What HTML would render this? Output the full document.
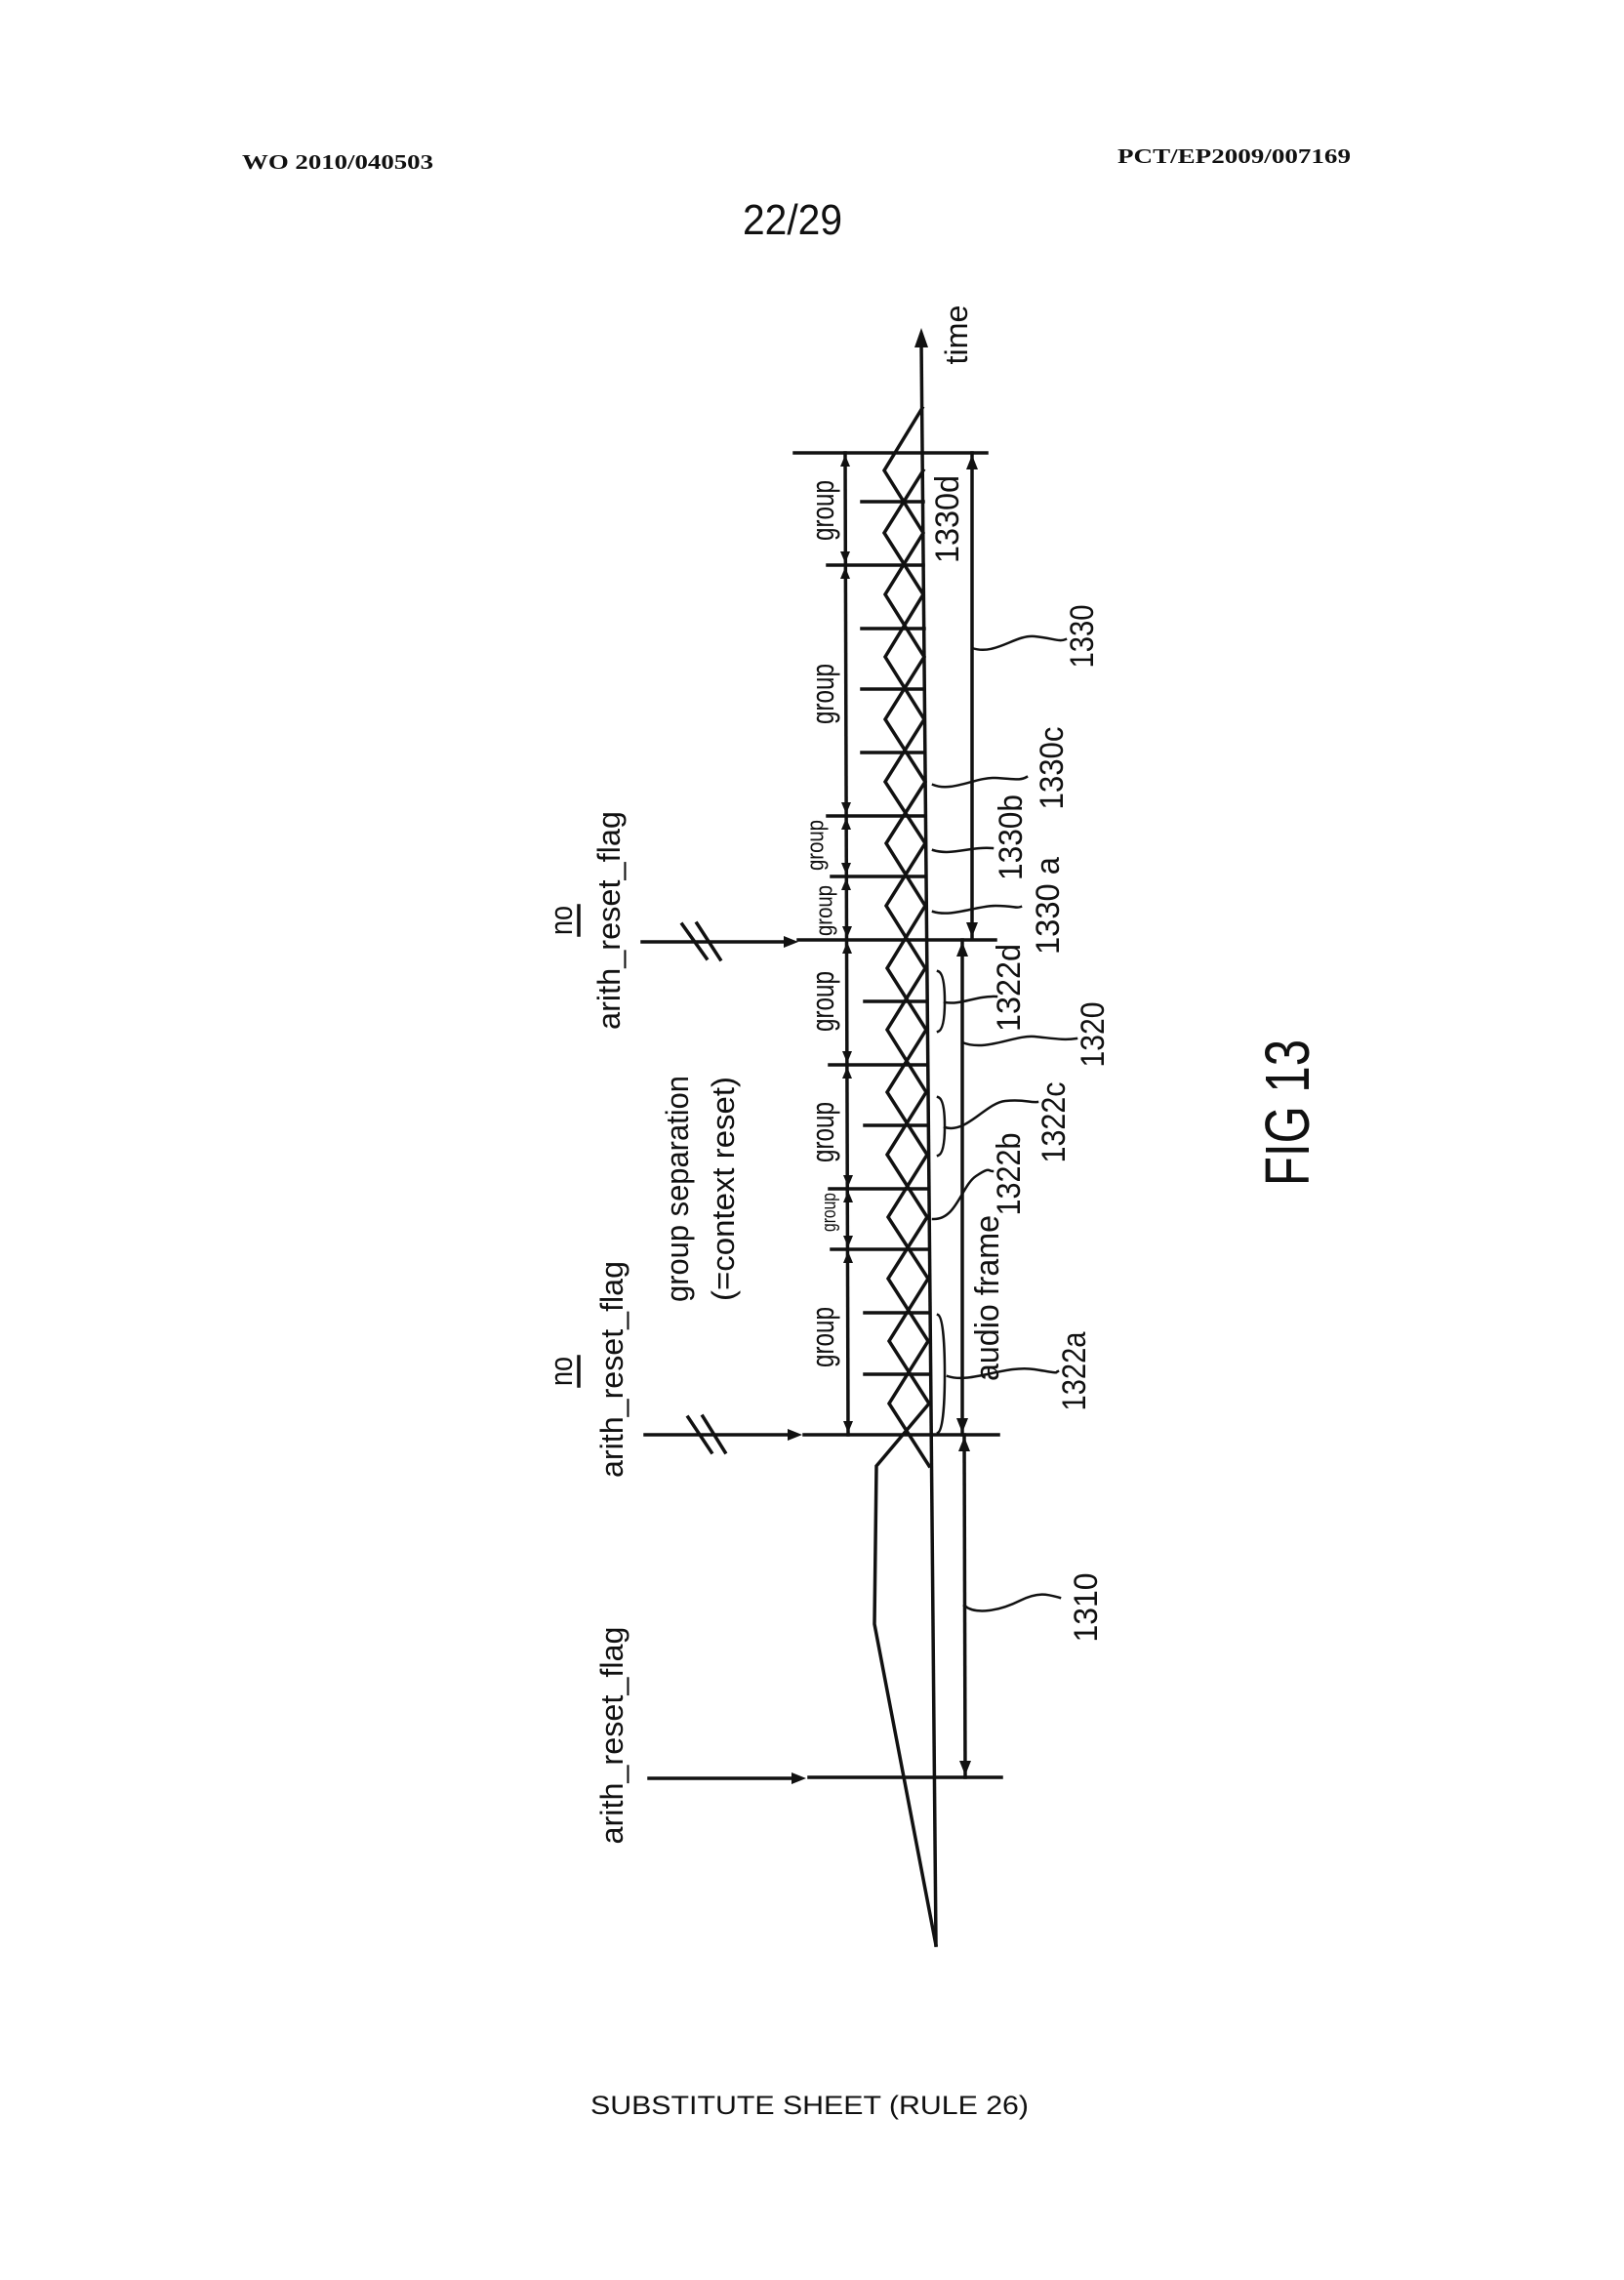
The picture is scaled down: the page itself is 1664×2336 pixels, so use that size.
<!DOCTYPE html>
<html><head><meta charset="utf-8"><style>
html,body{margin:0;padding:0;background:#fff;}
svg{display:block;}
text{font-family:"Liberation Sans",sans-serif;fill:#111;}
</style></head><body>
<svg width="1664" height="2336" viewBox="0 0 1664 2336" xmlns="http://www.w3.org/2000/svg">
<rect width="1664" height="2336" fill="#fff"/>
<!-- header -->
<text x="248" y="173" font-weight="bold" font-size="21" textLength="196" lengthAdjust="spacingAndGlyphs" style="font-family:'Liberation Serif',serif">WO 2010/040503</text>
<text x="1145" y="167" font-weight="bold" font-size="21" textLength="239" lengthAdjust="spacingAndGlyphs" style="font-family:'Liberation Serif',serif">PCT/EP2009/007169</text>
<text x="761" y="240" font-size="44" textLength="102" lengthAdjust="spacingAndGlyphs">22/29</text>
<text x="605" y="2166" font-size="27" textLength="449" lengthAdjust="spacingAndGlyphs">SUBSTITUTE SHEET (RULE 26)</text>

<g stroke="#111" stroke-width="3.5" fill="none" stroke-linecap="square">
<line x1="944" y1="350" x2="959" y2="1993"/>
<polyline points="
945,418 906,482 946,546 907,609 947,673 907,737 948,801 908,864 948,928 909,992 949,1055 909,1119 950,1183 910,1247 951,1310 911,1374 952,1438 898,1502 896,1664 959,1993"/>
<polyline points="
946,482 906,546 946,609 907,673 947,737 907,801 948,864 908,928 948,992 909,1055 949,1119 909,1183 950,1247 910,1310 951,1374 911,1438 952,1502"/>
<line x1="814" y1="464" x2="1011" y2="464"/>
<line x1="818" y1="963" x2="1020" y2="963"/>
<line x1="824" y1="1470" x2="1023" y2="1470"/>
<line x1="829" y1="1821" x2="1026" y2="1821"/>
<line x1="848" y1="579" x2="946" y2="579"/>
<line x1="848" y1="836" x2="948" y2="836"/>
<line x1="852" y1="898" x2="948" y2="898"/>
<line x1="850" y1="1091" x2="949" y2="1091"/>
<line x1="850" y1="1218" x2="950" y2="1218"/>
<line x1="852" y1="1280" x2="951" y2="1280"/>
<line x1="883" y1="514" x2="946" y2="514"/>
<line x1="883" y1="644" x2="947" y2="644"/>
<line x1="883" y1="706" x2="947" y2="706"/>
<line x1="883" y1="771" x2="947" y2="771"/>
<line x1="886" y1="1026" x2="949" y2="1026"/>
<line x1="886" y1="1153" x2="950" y2="1153"/>
<line x1="886" y1="1345" x2="951" y2="1345"/>
<line x1="886" y1="1408" x2="952" y2="1408"/>
<line x1="866" y1="464" x2="869" y2="1470"/>
<line x1="996" y1="464" x2="996" y2="961"/>
<line x1="986" y1="963" x2="986" y2="1470"/>
<line x1="988" y1="1470" x2="989" y2="1821"/>
<line x1="658" y1="965" x2="808" y2="965"/>
<line x1="661" y1="1470" x2="810" y2="1470"/>
<line x1="665" y1="1822" x2="812" y2="1822"/>
<line x1="699" y1="947" x2="724" y2="982"/>
<line x1="714" y1="946" x2="738" y2="983"/>
<line x1="705" y1="1452" x2="729" y2="1488"/>
<line x1="720" y1="1451" x2="743" y2="1488"/>
<g stroke-width="2.5">
<path d="M996,664 C1020,672 1040,650 1060,652 S1085,658 1092,655"/>
<path d="M956,804 C975,812 1000,796 1020,797 S1045,800 1052,796"/>
<path d="M956,871 C975,877 995,867 1017,869"/>
<path d="M956,934 C975,940 1000,928 1020,928 S1040,931 1046,929"/>
<path d="M961,995 C968,997 968,1020 968,1026 C968,1032 968,1055 961,1057"/>
<path d="M968,1027 C985,1030 1000,1020 1021,1021"/>
<path d="M986,1068 C1010,1078 1040,1060 1060,1062 S1090,1066 1103,1064"/>
<path d="M961,1124 C968,1126 968,1148 968,1154 C968,1160 968,1182 961,1184"/>
<path d="M968,1155 C990,1162 1010,1130 1030,1128 S1055,1130 1063,1129"/>
<path d="M956,1249 C980,1250 985,1215 1000,1205 S1012,1200 1017,1200"/>
<path d="M961,1347 C968,1350 968,1400 968,1408 C968,1416 968,1464 961,1468"/>
<path d="M971,1410 C995,1418 1030,1398 1060,1403 S1080,1406 1084,1405"/>
<path d="M988,1645 C1000,1655 1025,1650 1045,1640 S1075,1634 1086,1637"/>
</g>
<line x1="593" y1="928" x2="593" y2="958"/>
<line x1="593" y1="1390" x2="593" y2="1420"/>
</g>
<g fill="#111">
<polygon points="944,336 937,356 951,356"/>
<polygon points="818,965 803,959 803,971"/>
<polygon points="822,1470 807,1464 807,1476"/>
<polygon points="826,1822 811,1816 811,1828"/>
<polygon points="996,466 990,481 1002,481"/>
<polygon points="996,960 990,945 1002,945"/>
<polygon points="986,965 980,980 992,980"/>
<polygon points="986,1468 980,1453 992,1453"/>
<polygon points="988,1472 982,1487 994,1487"/>
<polygon points="989,1819 983,1804 995,1804"/>
<polygon points="866,466 861,478 871,478"/>
<polygon points="866,577 861,565 871,565"/><polygon points="866,581 861,593 871,593"/>
<polygon points="867,834 862,822 872,822"/><polygon points="867,838 862,850 872,850"/>
<polygon points="867,896 862,884 872,884"/><polygon points="867,900 862,912 872,912"/>
<polygon points="868,961 863,949 873,949"/><polygon points="868,965 863,977 873,977"/>
<polygon points="868,1089 863,1077 873,1077"/><polygon points="868,1093 863,1105 873,1105"/>
<polygon points="869,1216 864,1204 874,1204"/><polygon points="869,1220 864,1232 874,1232"/>
<polygon points="869,1278 864,1266 874,1266"/><polygon points="869,1282 864,1294 874,1294"/>
<polygon points="869,1468 864,1456 874,1456"/>
</g>
<g font-size="32">
<text transform="translate(980,343) rotate(-90)" text-anchor="middle" dominant-baseline="central" textLength="61" lengthAdjust="spacingAndGlyphs">time</text>
<text transform="translate(843,523) rotate(-90)" text-anchor="middle" dominant-baseline="central" textLength="62" lengthAdjust="spacingAndGlyphs">group</text>
<text transform="translate(843,711) rotate(-90)" text-anchor="middle" dominant-baseline="central" textLength="62" lengthAdjust="spacingAndGlyphs">group</text>
<text transform="translate(836,866) rotate(-90)" text-anchor="middle" dominant-baseline="central" font-size="24" textLength="52" lengthAdjust="spacingAndGlyphs">group</text>
<text transform="translate(845,933) rotate(-90)" text-anchor="middle" dominant-baseline="central" font-size="24" textLength="52" lengthAdjust="spacingAndGlyphs">group</text>
<text transform="translate(843,1026) rotate(-90)" text-anchor="middle" dominant-baseline="central" textLength="62" lengthAdjust="spacingAndGlyphs">group</text>
<text transform="translate(843,1160) rotate(-90)" text-anchor="middle" dominant-baseline="central" textLength="62" lengthAdjust="spacingAndGlyphs">group</text>
<text transform="translate(850,1242) rotate(-90)" text-anchor="middle" dominant-baseline="central" font-size="20" textLength="40" lengthAdjust="spacingAndGlyphs">group</text>
<text transform="translate(843,1370) rotate(-90)" text-anchor="middle" dominant-baseline="central" textLength="62" lengthAdjust="spacingAndGlyphs">group</text>

<text transform="translate(971,532) rotate(-90)" text-anchor="middle" dominant-baseline="central" font-size="34" textLength="90" lengthAdjust="spacingAndGlyphs">1330d</text>
<text transform="translate(1109,652) rotate(-90)" text-anchor="middle" dominant-baseline="central" font-size="34" textLength="65" lengthAdjust="spacingAndGlyphs">1330</text>
<text transform="translate(1078,787) rotate(-90)" text-anchor="middle" dominant-baseline="central" font-size="34" textLength="85" lengthAdjust="spacingAndGlyphs">1330c</text>
<text transform="translate(1036,858) rotate(-90)" text-anchor="middle" dominant-baseline="central" font-size="34" textLength="88" lengthAdjust="spacingAndGlyphs">1330b</text>
<text transform="translate(1074,928) rotate(-90)" text-anchor="middle" dominant-baseline="central" font-size="34" textLength="100" lengthAdjust="spacingAndGlyphs">1330 a</text>
<text transform="translate(1034,1012) rotate(-90)" text-anchor="middle" dominant-baseline="central" font-size="34" textLength="90" lengthAdjust="spacingAndGlyphs">1322d</text>
<text transform="translate(1120,1060) rotate(-90)" text-anchor="middle" dominant-baseline="central" font-size="34" textLength="67" lengthAdjust="spacingAndGlyphs">1320</text>
<text transform="translate(1080,1150) rotate(-90)" text-anchor="middle" dominant-baseline="central" font-size="34" textLength="83" lengthAdjust="spacingAndGlyphs">1322c</text>
<text transform="translate(1034,1203) rotate(-90)" text-anchor="middle" dominant-baseline="central" font-size="34" textLength="85" lengthAdjust="spacingAndGlyphs">1322b</text>
<text transform="translate(1012,1330) rotate(-90)" text-anchor="middle" dominant-baseline="central" font-size="34" textLength="170" lengthAdjust="spacingAndGlyphs">audio frame</text>
<text transform="translate(1101,1405) rotate(-90)" text-anchor="middle" dominant-baseline="central" font-size="34" textLength="81" lengthAdjust="spacingAndGlyphs">1322a</text>
<text transform="translate(1113,1647) rotate(-90)" text-anchor="middle" dominant-baseline="central" font-size="34" textLength="71" lengthAdjust="spacingAndGlyphs">1310</text>

<text transform="translate(694,1218) rotate(-90)" text-anchor="middle" dominant-baseline="central" textLength="232" lengthAdjust="spacingAndGlyphs">group separation</text>
<text transform="translate(741,1218) rotate(-90)" text-anchor="middle" dominant-baseline="central" textLength="230" lengthAdjust="spacingAndGlyphs">(=context reset)</text>

<text transform="translate(575,943) rotate(-90)" text-anchor="middle" dominant-baseline="central" textLength="30" lengthAdjust="spacingAndGlyphs">no</text>
<text transform="translate(624,943) rotate(-90)" text-anchor="middle" dominant-baseline="central" textLength="224" lengthAdjust="spacingAndGlyphs">arith_reset_flag</text>
<text transform="translate(575,1405) rotate(-90)" text-anchor="middle" dominant-baseline="central" textLength="30" lengthAdjust="spacingAndGlyphs">no</text>
<text transform="translate(627,1403) rotate(-90)" text-anchor="middle" dominant-baseline="central" textLength="222" lengthAdjust="spacingAndGlyphs">arith_reset_flag</text>
<text transform="translate(627,1778) rotate(-90)" text-anchor="middle" dominant-baseline="central" textLength="223" lengthAdjust="spacingAndGlyphs">arith_reset_flag</text>

<text transform="translate(1319,1140) rotate(-90)" text-anchor="middle" dominant-baseline="central" font-size="64" textLength="150" lengthAdjust="spacingAndGlyphs">FIG 13</text>
</g>
</svg>
</body></html>
